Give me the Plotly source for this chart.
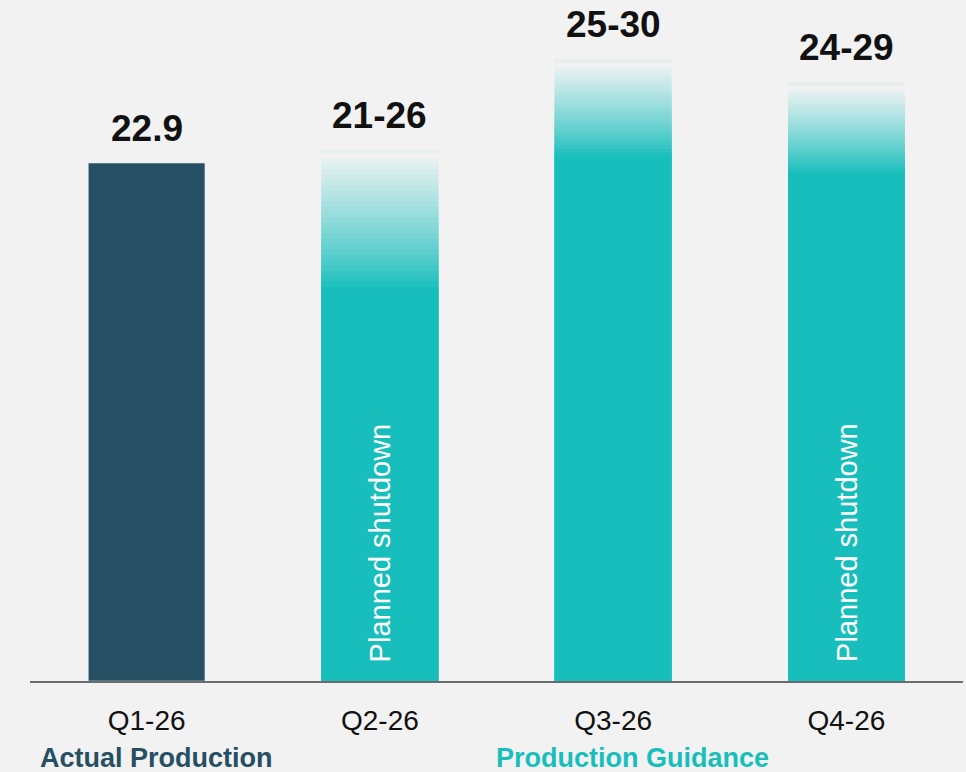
import plotly.graph_objects as go

# ---- data ----
quarters = ["Q1-26", "Q2-26", "Q3-26", "Q4-26"]
actual_quarters = ["Q1-26"]
actual_values = [22.9]
actual_labels = ["22.9"]

guidance_quarters = ["Q2-26", "Q3-26", "Q4-26"]
guidance_low = [21, 25, 24]
guidance_high = [26, 30, 29]
guidance_labels = ["21-26", "25-30", "24-29"]
# value where the solid fill starts fading
guidance_solid_top = [17.4, 23.2, 22.5]
shutdown_quarters = ["Q2-26", "Q4-26"]

# ---- styles ----
BG = "#f2f2f2"
DARK = "#264f63"
TEAL = (23, 190, 188)
FADE = (232, 241, 241)
FONT = "Liberation Sans"

fig = go.Figure()

# actual bar
fig.add_trace(go.Bar(x=actual_quarters, y=actual_values, marker_color=DARK,
                     width=0.5, hoverinfo="skip", showlegend=False))

guidance_mid = [(lo + hi) / 2 for lo, hi in zip(guidance_low, guidance_high)]

# faint cap band
cap_band = 0.17
cap_gap = 0.22
fig.add_trace(go.Bar(x=guidance_quarters, y=[cap_band] * 3,
                     base=[m - cap_band for m in guidance_mid],
                     marker=dict(color="rgb(230,238,238)", line_width=0),
                     width=0.5, hoverinfo="skip", showlegend=False))

# gradient fade: layered bars, lightest (tallest) first, darker on top
N = 24
for i in reversed(range(N)):
    t = ((i + 0.5) / N) ** 0.85
    col = tuple(round(TEAL[k] + (FADE[k] - TEAL[k]) * t) for k in range(3))
    heights = []
    for st, mid in zip(guidance_solid_top, guidance_mid):
        top = mid - cap_band - cap_gap
        heights.append(st + (top - st) * (i + 1) / N)
    fig.add_trace(go.Bar(x=guidance_quarters, y=heights,
                         marker=dict(color="rgb(%d,%d,%d)" % col, line_width=0),
                         width=0.5, hoverinfo="skip", showlegend=False))

# solid part of guidance bars
fig.add_trace(go.Bar(x=guidance_quarters, y=guidance_solid_top,
                     marker=dict(color="rgb(%d,%d,%d)" % TEAL, line_width=0),
                     width=0.5, hoverinfo="skip", showlegend=False))

annotations = []
for q, v, lab in zip(actual_quarters + guidance_quarters,
                     actual_values + guidance_mid,
                     actual_labels + guidance_labels):
    annotations.append(dict(x=q, y=v, text="<b>%s</b>" % lab, showarrow=False,
                            yanchor="bottom", yshift=12,
                            font=dict(family=FONT, size=37, color="#111111")))
for q in shutdown_quarters:
    annotations.append(dict(x=q, y=0, text="Planned shutdown", showarrow=False,
                            textangle=-90, yanchor="bottom", yshift=17,
                            font=dict(family=FONT, size=29, color="white")))

annotations.append(dict(x=0.044, y=0, yref="paper", xref="x",
                        text="<b>Actual Production</b>", showarrow=False,
                        yanchor="top", yshift=-60,
                        font=dict(family=FONT, size=27, color=DARK)))
annotations.append(dict(x=2.085, y=0, yref="paper", xref="x",
                        text="<b>Production Guidance</b>", showarrow=False,
                        yanchor="top", yshift=-60,
                        font=dict(family=FONT, size=27, color="rgb(%d,%d,%d)" % TEAL)))

fig.update_layout(
    width=966, height=772,
    margin=dict(l=30, r=3, t=0, b=91),
    paper_bgcolor=BG, plot_bgcolor=BG,
    barmode="overlay", bargap=0.5,
    annotations=annotations,
    hovermode=False,
    xaxis=dict(categoryorder="array", categoryarray=quarters, range=[-0.5, 3.5],
               showline=True, linecolor="#6b6b6b", linewidth=2, ticks="",
               showgrid=False, zeroline=False, ticklabelstandoff=13,
               tickfont=dict(family=FONT, size=28, color="#111111")),
    yaxis=dict(range=[0, 30.11], visible=False, showgrid=False, zeroline=False),
)

fig.write_html(
    "out.html",
    config={"displayModeBar": False},
    post_script="document.body.style.margin='0';document.body.style.overflow='hidden';"
                "document.body.style.background='#f2f2f2';",
)
